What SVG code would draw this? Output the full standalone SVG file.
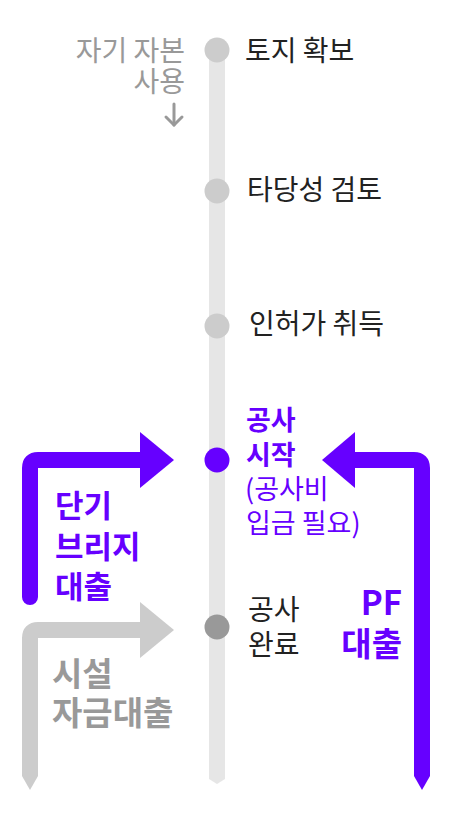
<svg xmlns="http://www.w3.org/2000/svg" width="452" height="828" viewBox="0 0 452 828">
<style>
  text { font-family: "Noto Sans CJK KR", "Noto Sans", sans-serif; }
  .t { font-size: 28px; fill: #222222; }
  .g { font-size: 28px; fill: #999999; }
  .p { font-size: 27px; fill: #6600ff; }
  .pb { font-weight: bold; }
  .bp { font-size: 31px; fill: #6600ff; font-weight: bold; }
  .bpl { font-size: 33px; fill: #6600ff; font-weight: bold; }
  .bg { font-size: 33px; fill: #999999; font-weight: bold; }
  .dot { fill: #cccccc; }
</style>
<rect width="452" height="828" fill="#ffffff"/>
<g id="connectors">
  <polygon id="timeline" points="209,50 225,50 225,779 217,784 209,779" fill="#e6e6e6"/>
  <g id="arrow-bridge">
    <path d="M30,597 V468 Q30,460 38,460 H142" fill="none" stroke="#6600ff" stroke-width="16" stroke-linecap="round" stroke-linejoin="round"/>
    <polygon points="140,432 174,460 140,488" fill="#6600ff"/>
  </g>
  <g id="arrow-facility">
    <path d="M30,776 V638 Q30,630 38,630 H142" fill="none" stroke="#cccccc" stroke-width="16" stroke-linejoin="round"/>
    <polygon points="22,776 38,776 30,790" fill="#cccccc"/>
    <polygon points="140,602 174,630 140,658" fill="#cccccc"/>
  </g>
  <g id="arrow-pf">
    <path d="M422,776 V468 Q422,460 414,460 H354" fill="none" stroke="#6600ff" stroke-width="16" stroke-linejoin="round"/>
    <polygon points="414,776 430,776 422,790" fill="#6600ff"/>
    <polygon points="355,432 322,460 355,488" fill="#6600ff"/>
  </g>
  <g id="arrow-own" fill="none" stroke="#999999" stroke-width="3" stroke-linecap="round" stroke-linejoin="round">
    <path d="M174,104 V125"/>
    <path d="M166,117 L174,125 L182,117"/>
  </g>
</g>
<g id="node-land">
  <circle class="dot" cx="217" cy="50" r="12.5"/>
  <text class="t" x="245" y="61">토지 확보</text>
</g>
<g id="node-own-capital">
  <text class="g" text-anchor="end"><tspan x="185" y="61">자기 자본</tspan><tspan x="185" y="92">사용</tspan></text>
</g>
<g id="node-feasibility">
  <circle class="dot" cx="217" cy="191" r="12.5"/>
  <text class="t" x="247" y="200">타당성 검토</text>
</g>
<g id="node-permit">
  <circle class="dot" cx="217" cy="326" r="12.5"/>
  <text class="t" x="249" y="334">인허가 취득</text>
</g>
<g id="node-start">
  <circle cx="217" cy="460" r="12.5" fill="#6600ff"/>
  <text class="p"><tspan class="pb" x="246" y="430">공사</tspan><tspan class="pb" x="246" y="465">시작</tspan><tspan x="245" y="499">(공사비</tspan><tspan x="246" y="533">입금 필요)</tspan></text>
</g>
<g id="node-complete">
  <circle cx="217" cy="627" r="12.5" fill="#999999"/>
  <text class="t"><tspan x="248" y="620">공사</tspan><tspan x="248" y="655">완료</tspan></text>
</g>
<g id="label-bridge">
  <text class="bp"><tspan x="55" y="517">단기</tspan><tspan x="55" y="558">브리지</tspan><tspan x="55" y="598">대출</tspan></text>
</g>
<g id="label-facility">
  <text class="bg"><tspan x="52" y="686">시설</tspan><tspan x="52" y="725">자금대출</tspan></text>
</g>
<g id="label-pf">
  <text class="bpl" text-anchor="end"><tspan x="402" y="615">PF</tspan><tspan x="402" y="656">대출</tspan></text>
</g>
</svg>
